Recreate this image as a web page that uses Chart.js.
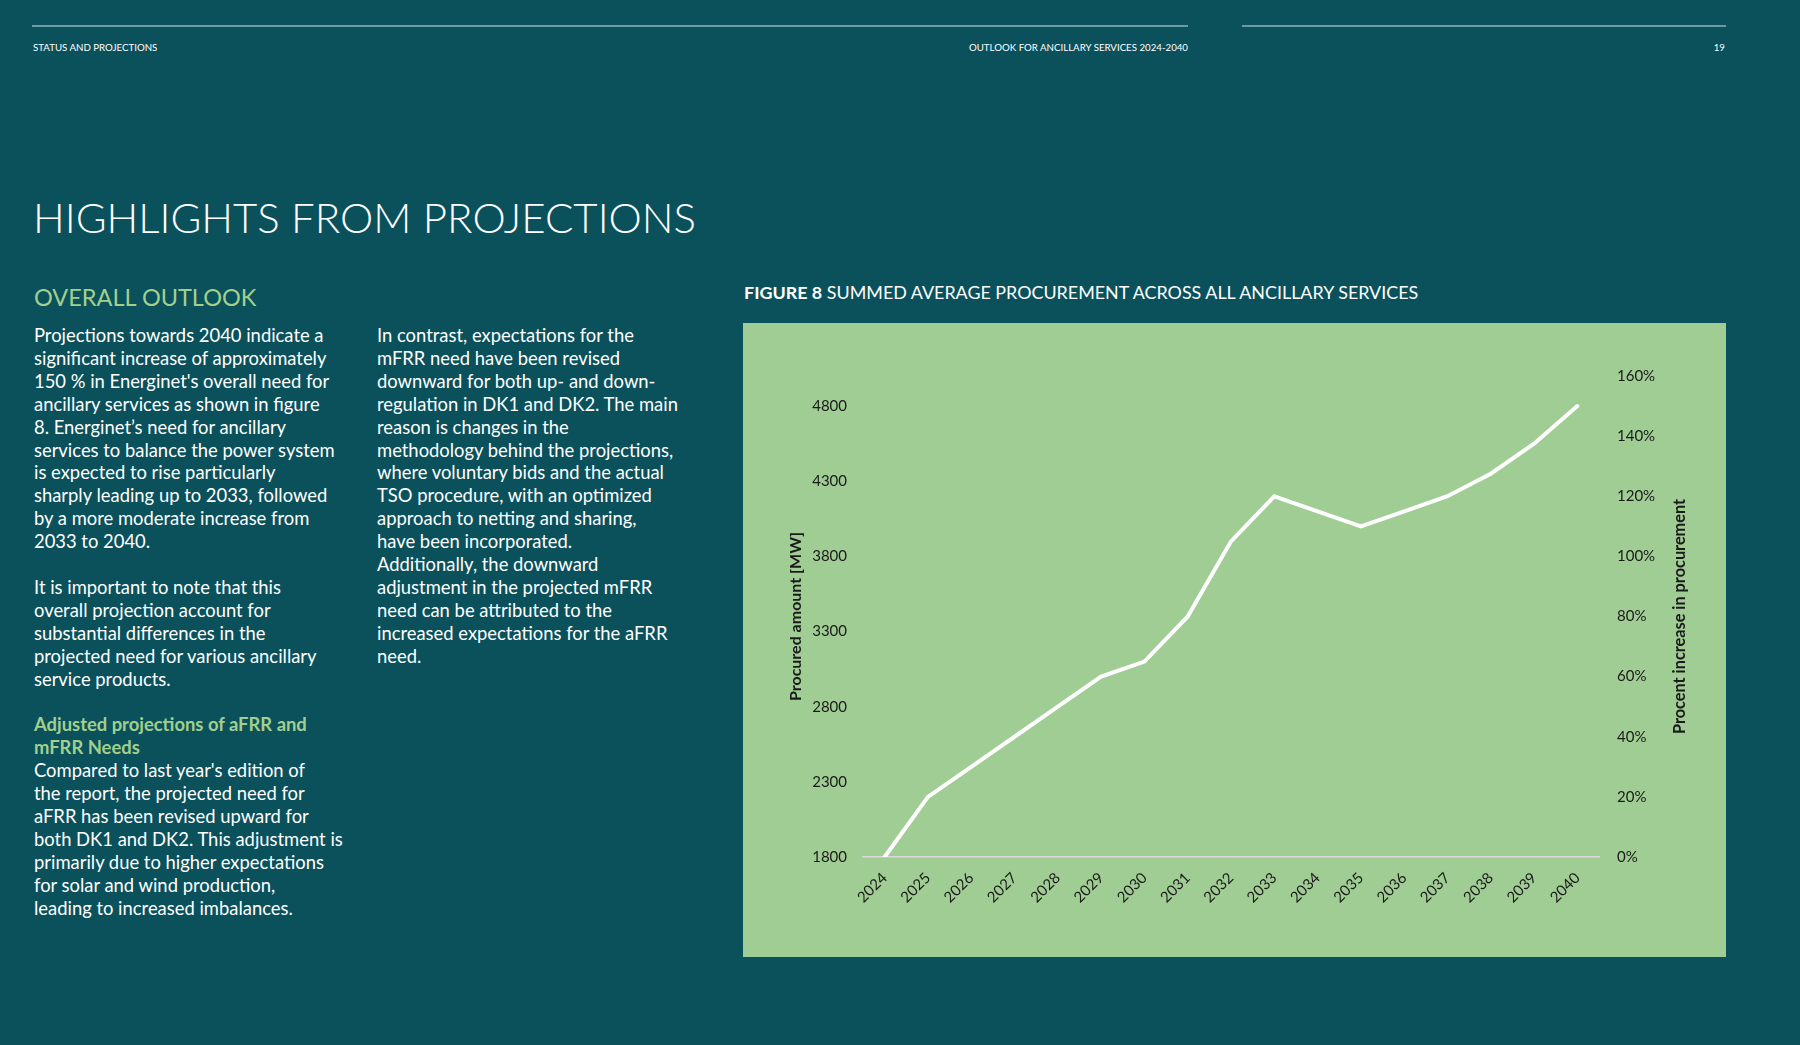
<!DOCTYPE html>
<html>
<head>
<meta charset="utf-8">
<script src="https://cdn.jsdelivr.net/npm/chart.js@4.4.1/dist/chart.umd.min.js"></script>
<style>
  html, body { margin: 0; padding: 0; }
  body {
    width: 1800px; height: 1045px; overflow: hidden; position: relative;
    background: #0a515c; color: #fff; font-family: Lato, "Open Sans", sans-serif;
  }
  .rule { position: absolute; top: 25px; height: 2px; background: #6d9ba3; }
  .hdr { position: absolute; top: 40px; font-size: 9.7px; line-height: 14px; white-space: nowrap; }
  h1 {
    position: absolute; left: 33px; top: 190px; margin: 0;
    font-size: 42px; font-weight: 300; line-height: 54px; white-space: nowrap;
  }
  h2 {
    position: absolute; left: 34px; top: 281px; margin: 0;
    font-size: 23.5px; font-weight: 400; line-height: 32px; color: #a3cf8c; white-space: nowrap;
  }
  .col { position: absolute; top: 324px; font-size: 18.4px; line-height: 22.9px; white-space: nowrap; }
  .col b { color: #a3cf8c; }
  .figtitle { position: absolute; left: 744px; top: 281px; font-size: 17.9px; line-height: 22px; white-space: nowrap; }
  #chartBox { position: absolute; left: 743px; top: 323px; width: 983px; height: 634px; background: #a0cd93; }
</style>
</head>
<body>
<div class="rule" style="left:32px;width:1156px"></div>
<div class="rule" style="left:1242px;width:484px"></div>
<div class="hdr" style="left:33px">STATUS AND PROJECTIONS</div>
<div class="hdr" style="right:612px">OUTLOOK FOR ANCILLARY SERVICES 2024-2040</div>
<div class="hdr" style="right:75px">19</div>

<h1>HIGHLIGHTS FROM PROJECTIONS</h1>
<h2>OVERALL OUTLOOK</h2>

<div class="col" style="left:34px">
Projections towards 2040 indicate a<br>
significant increase of approximately<br>
150 % in Energinet's overall need for<br>
ancillary services as shown in figure<br>
8. Energinet’s need for ancillary<br>
services to balance the power system<br>
is expected to rise particularly<br>
sharply leading up to 2033, followed<br>
by a more moderate increase from<br>
2033 to 2040.<br>
<br>
It is important to note that this<br>
overall projection account for<br>
substantial differences in the<br>
projected need for various ancillary<br>
service products.<br>
<br>
<b>Adjusted projections of aFRR and<br>
mFRR Needs</b><br>
Compared to last year's edition of<br>
the report, the projected need for<br>
aFRR has been revised upward for<br>
both DK1 and DK2. This adjustment is<br>
primarily due to higher expectations<br>
for solar and wind production,<br>
leading to increased imbalances.
</div>

<div class="col" style="left:377px">
In contrast, expectations for the<br>
mFRR need have been revised<br>
downward for both up- and down-<br>
regulation in DK1 and DK2. The main<br>
reason is changes in the<br>
methodology behind the projections,<br>
where voluntary bids and the actual<br>
TSO procedure, with an optimized<br>
approach to netting and sharing,<br>
have been incorporated.<br>
Additionally, the downward<br>
adjustment in the projected mFRR<br>
need can be attributed to the<br>
increased expectations for the aFRR<br>
need.
</div>

<div class="figtitle"><b>FIGURE 8</b> SUMMED AVERAGE PROCUREMENT ACROSS ALL ANCILLARY SERVICES</div>

<div id="chartBox"><canvas id="procChart"></canvas></div>

<script>
// Chart data
const years = ['2024', '2025', '2026', '2027', '2028', '2029', '2030', '2031', '2032',
               '2033', '2034', '2035', '2036', '2037', '2038', '2039', '2040'];
const procuredMW = [1800, 2200, 2400, 2600, 2800, 3000, 3100, 3400, 3900,
                    4200, 4100, 4000, 4100, 4200, 4350, 4550, 4800];
const mwTicks = [1800, 2300, 2800, 3300, 3800, 4300, 4800];
const mwRange = [1800, 5000];
const pctTicks = [0, 20, 40, 60, 80, 100, 120, 140, 160];

const tickFont = { family: 'Lato', size: 15 };
const titleFont = { family: 'Lato', size: 16, weight: 'bold' };
const textColor = '#1a1a1a';

// Right axis title reads bottom-to-top in the original, so draw it ourselves
const rightTitle = {
    id: 'rightTitle',
    afterDraw(chart) {
        const scale = chart.scales.pct;
        const area = chart.chartArea;
        const ctx = chart.ctx;
        ctx.save();
        ctx.translate(scale.right - 46, (area.top + area.bottom) / 2);
        ctx.rotate(-Math.PI / 2);
        ctx.font = 'bold 16.3px Lato';
        ctx.fillStyle = textColor;
        ctx.textAlign = 'center';
        ctx.textBaseline = 'middle';
        ctx.fillText('Procent increase in procurement', 0, 0);
        ctx.restore();
    }
};

const procCtx = document.getElementById('procChart').getContext('2d');
const procChart = new Chart(procCtx, {
    type: 'line',
    data: {
        labels: years,
        datasets: [{
            label: 'Procured amount [MW]',
            data: procuredMW,
            yAxisID: 'mw',
            borderColor: '#ffffff',
            borderWidth: 4,
            borderCapStyle: 'round',
            borderJoinStyle: 'miter',
            pointRadius: 0,
            tension: 0,
            fill: false
        }]
    },
    options: {
        responsive: true,
        maintainAspectRatio: false,
        animation: false,
        layout: { padding: { top: 53, right: 0, bottom: 0, left: 0 } },
        scales: {
            x: {
                offset: true,
                grid: { display: false, drawTicks: false },
                border: { display: true, color: '#d9d9d9', width: 1.5 },
                ticks: {
                    font: tickFont, color: textColor,
                    minRotation: 45, maxRotation: 45, autoSkip: false, padding: 12
                },
                afterFit(scale) { scale.height = 100; }
            },
            mw: {
                position: 'left',
                min: mwRange[0],
                max: mwRange[1],
                grid: { display: false, drawTicks: false },
                border: { display: false },
                ticks: {
                    font: tickFont, color: textColor, padding: 16,
                    callback: (v) => String(v)
                },
                afterBuildTicks(scale) { scale.ticks = mwTicks.map(v => ({ value: v })); },
                title: {
                    display: true, text: 'Procured amount [MW]',
                    font: titleFont, color: textColor, padding: { top: 43, bottom: 0 }
                },
                afterFit(scale) { scale.width = 120; }
            },
            pct: {
                position: 'right',
                min: pctTicks[0],
                max: pctTicks[pctTicks.length - 1],
                grid: { display: false, drawTicks: false },
                border: { display: false },
                ticks: {
                    font: tickFont, color: textColor, padding: 18,
                    callback: (v) => v + '%'
                },
                afterBuildTicks(scale) { scale.ticks = pctTicks.map(v => ({ value: v })); },
                afterFit(scale) { scale.width = 127; }
            }
        },
        plugins: {
            legend: { display: false },
            tooltip: { enabled: false }
        }
    },
    plugins: [rightTitle]
});
</script>
</body>
</html>
